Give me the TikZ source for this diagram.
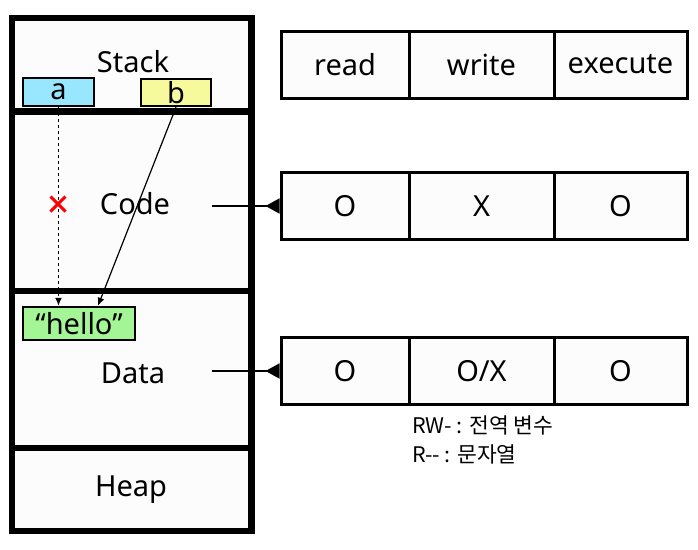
\documentclass[tikz,border=0pt]{standalone}
\usepackage{fontspec}
\setmainfont{Noto Sans}
\newfontfamily\kofont{Noto Sans CJK KR}
\usetikzlibrary{arrows.meta,shapes.misc}
\definecolor{cellbg}{HTML}{FCFCFC}
\definecolor{acol}{HTML}{99E6FF}
\definecolor{bcol}{HTML}{F6FA9C}
\definecolor{hcol}{HTML}{A3F595}
\tikzset{
  lbl/.style={font=\fontsize{29}{33}\selectfont, inner sep=0pt},
  varbox/.style={draw, line width=2.5pt, inner sep=0pt, font=\fontsize{29}{33}\selectfont},
  cell/.style={draw, line width=3pt, fill=cellbg, inner sep=0pt, minimum height=67pt, font=\fontsize{29}{33}\selectfont},
  memline/.style={line width=6.5pt},
  ptr/.style={line width=1.2pt, -{Latex[length=8pt,width=7pt]}},
  perm/.style={line width=1.6pt, -{Triangle[reversed,length=14pt,width=15pt]}},
  note/.style={font=\kofont\fontsize{21.5}{29}\selectfont, align=left, inner sep=0pt}
}
\begin{document}
\begin{tikzpicture}[x=1pt,y=-1pt]
\useasboundingbox (0,0) rectangle (698,549);
% memory block
\fill[cellbg] (12,18) rectangle (251.5,531);
\draw[memline] (12,18) rectangle (251.5,531);
\draw[memline] (12,111.5) -- (251.5,111.5);
\draw[memline] (12,291) -- (251.5,291);
\draw[memline] (12,448) -- (251.5,448);
\node[lbl] (stack) at (133,62) {Stack};
\node[lbl] (code) at (135,204) {Code};
\node[lbl] (data) at (133,373) {Data};
\node[lbl] (heap) at (131,490) {Heap};
% variables
\node[varbox, fill=acol, minimum width=71pt, minimum height=28pt] (a) at (58.5,92) {a};
\node[varbox, fill=bcol, minimum width=70pt, minimum height=27pt] (b) at (176,92.5) {b};
\node[varbox, fill=hcol, minimum width=112pt, minimum height=33pt] (hello) at (79,323.5) {“hello”};
\draw[ptr, dash pattern=on 3pt off 3pt] (a.south) -- (a.south |- hello.north);
\draw[ptr] (b.south) -- ([xshift=-2pt]hello.north east -| 100,0);
\node[cross out, draw=red, line width=3pt, minimum size=12pt, inner sep=0pt] (xmark) at (58,204) {};
% permission tables
\node[cell, minimum width=128pt] (r0c1) at (345,64.5) {read};
\node[cell, minimum width=145pt] (r0c2) at (481.5,64.5) {write};
\node[cell, minimum width=133pt] (r0c3) at (620.5,64.5) {execute};
\node[cell, minimum width=128pt] (r1c1) at (345,206) {O};
\node[cell, minimum width=145pt] (r1c2) at (481.5,206) {X};
\node[cell, minimum width=133pt] (r1c3) at (620.5,206) {O};
\node[cell, minimum width=128pt] (r2c1) at (345,371) {O};
\node[cell, minimum width=145pt] (r2c2) at (481.5,371) {O/X};
\node[cell, minimum width=133pt] (r2c3) at (620.5,371) {O};
\coordinate (codeout) at (212,206);
\coordinate (dataout) at (212,371);
\draw[perm] (codeout) -- (r1c1.west);
\draw[perm] (dataout) -- (r2c1.west);
\node[note, anchor=north west] (legend) at (412,416) {RW- : 전역 변수\\R-- : 문자열};
\end{tikzpicture}
\end{document}
